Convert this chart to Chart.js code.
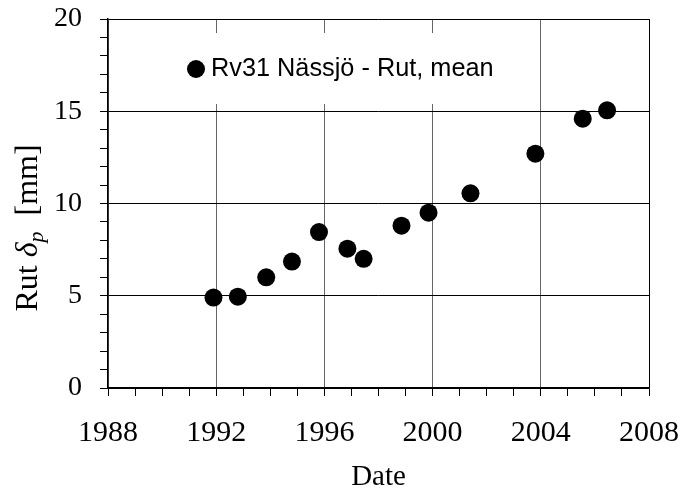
<!DOCTYPE html>
<html>
<head>
<meta charset="utf-8">
<script src="https://cdn.jsdelivr.net/npm/chart.js@4/dist/chart.umd.min.js"></script>
<style>
html,body{margin:0;padding:0;background:#fff;}
#wrap{width:685px;height:489px;}
</style>
</head>
<body>
<div id="wrap"><canvas id="c" width="685" height="489"></canvas></div>
<script>
// ---- data ----
const seriesLabel = 'Rv31 Nässjö - Rut, mean';
const years = [1991.9, 1992.8, 1993.85, 1994.8, 1995.8, 1996.85, 1997.45, 1998.85, 1999.85, 2001.4, 2003.8, 2005.55, 2006.45];
const rutMean = [4.9, 4.95, 6.0, 6.85, 8.45, 7.55, 7.0, 8.8, 9.5, 10.55, 12.7, 14.6, 15.05];
const xMajorTicks = [1988, 1992, 1996, 2000, 2004, 2008];
const yMajorTicks = [0, 5, 10, 15, 20];
const xTitle = 'Date';
const yTitleParts = ['Rut ', 'δ', 'p', '  [mm]'];

const points = years.map((x, i) => ({x: x, y: rutMean[i]}));

const boxLegend = {
  id: 'boxLegend',
  beforeDatasetsDraw(chart) {
    const ctx = chart.ctx;
    ctx.save();
    ctx.fillStyle = '#fff';
    ctx.fillRect(178, 33, 328, 71);
    ctx.fillStyle = '#000';
    ctx.beginPath();
    ctx.arc(196, 69, 9, 0, Math.PI * 2);
    ctx.fill();
    ctx.font = '25.3px "Liberation Sans", Arial, sans-serif';
    ctx.textBaseline = 'middle';
    ctx.textAlign = 'left';
    ctx.fillText(seriesLabel, 211, 69);
    ctx.restore();
  }
};

const yTitle = {
  id: 'yTitle',
  afterDraw(chart) {
    const ctx = chart.ctx;
    const fN = '32px "Liberation Serif", "Times New Roman", serif';
    const fI = 'italic 32px "Liberation Serif", "Times New Roman", serif';
    const fS = 'italic 22px "Liberation Serif", "Times New Roman", serif';
    const fonts = [fN, fI, fS, fN];
    const dy = [0, 0, 6, 0];
    ctx.save();
    let widths = yTitleParts.map((t, i) => { ctx.font = fonts[i]; return ctx.measureText(t).width; });
    const total = widths.reduce((a, b) => a + b, 0);
    ctx.translate(37, 228);
    ctx.rotate(-Math.PI / 2);
    ctx.fillStyle = '#000';
    ctx.textBaseline = 'alphabetic';
    ctx.textAlign = 'left';
    let x = -total / 2;
    yTitleParts.forEach((t, i) => {
      ctx.font = fonts[i];
      ctx.fillText(t, x, dy[i]);
      x += widths[i];
    });
    ctx.restore();
  }
};

new Chart(document.getElementById('c'), {
  type: 'scatter',
  data: {
    datasets: [{
      label: seriesLabel,
      data: points,
      backgroundColor: '#000',
      borderColor: '#000',
      pointRadius: 9,
      pointHoverRadius: 9,
      borderWidth: 0
    }]
  },
  options: {
    responsive: false,
    animation: false,
    devicePixelRatio: 1,
    layout: {padding: {left: 0, right: 36, top: 19, bottom: 0}},
    plugins: {legend: {display: false}, tooltip: {enabled: false}},
    scales: {
      x: {
        type: 'linear',
        min: 1988, max: 2008,
        afterFit(s) { s.height = 101; s.paddingLeft = 0; s.paddingRight = 0; },
        afterBuildTicks(s) { const t = []; for (let v = 1988; v <= 2008; v++) t.push({value: v}); s.ticks = t; },
        ticks: {
          autoSkip: false, maxRotation: 0, padding: 19,
          color: '#000',
          font: {family: '"Liberation Serif", "Times New Roman", serif', size: 30},
          callback: (v) => xMajorTicks.includes(v) ? String(v) : ''
        },
        grid: {
          drawTicks: true, tickLength: 8,
          color: (c) => (c.tick && xMajorTicks.includes(c.tick.value)) ? (c.tick.value === 2008 ? '#000' : '#666') : 'rgba(0,0,0,0)',
          tickColor: '#000', lineWidth: 1
        },
        border: {color: '#000', width: 1.5},
        title: {display: true, text: xTitle, color: '#000',
          font: {family: '"Liberation Serif", "Times New Roman", serif', size: 29, lineHeight: 0.8},
          padding: {top: 0, bottom: 0}}
      },
      y: {
        type: 'linear',
        min: 0, max: 20,
        afterFit(s) { s.width = 108; s.paddingTop = 0; s.paddingBottom = 0; },
        afterBuildTicks(s) { const t = []; for (let v = 0; v <= 20; v++) t.push({value: v}); s.ticks = t; },
        ticks: {
          autoSkip: false, padding: 18,
          color: '#000',
          font: {family: '"Liberation Serif", "Times New Roman", serif', size: 28},
          callback: (v) => yMajorTicks.includes(v) ? String(v) : ''
        },
        grid: {
          drawTicks: true, tickLength: 8,
          color: (c) => (c.tick && yMajorTicks.includes(c.tick.value)) ? '#000' : 'rgba(0,0,0,0)',
          tickColor: '#000', lineWidth: 1
        },
        border: {color: '#000', width: 1.5},
        title: {display: false}
      }
    }
  },
  plugins: [boxLegend, yTitle]
});
</script>
</body>
</html>
